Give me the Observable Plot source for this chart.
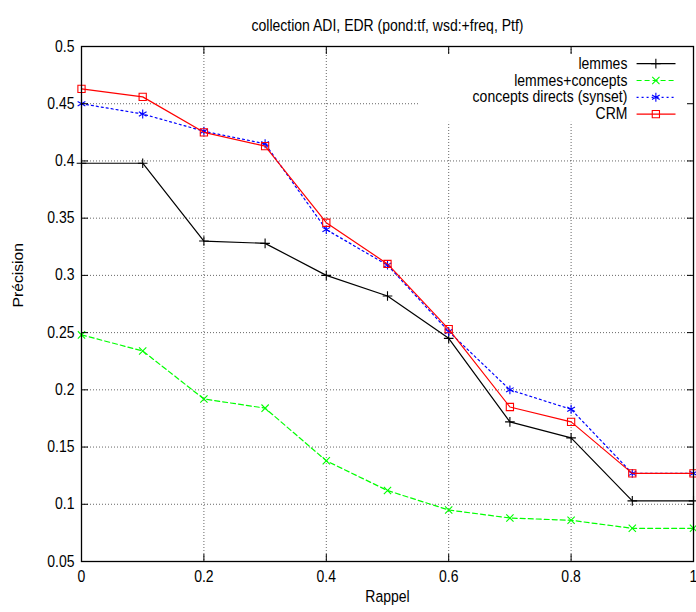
<!DOCTYPE html>
<html><head><meta charset="utf-8">
<script src="https://cdn.jsdelivr.net/npm/d3@7"></script>
<script src="https://cdn.jsdelivr.net/npm/@observablehq/plot@0.6"></script>
<style>body{margin:0;background:#fff}</style>
</head><body><div id="chart"></div>
<script>
const rappel = [0, 0.1, 0.2, 0.3, 0.4, 0.5, 0.6, 0.7, 0.8, 0.9, 1];
const lemmes = [0.398, 0.398, 0.330, 0.328, 0.300, 0.282, 0.245, 0.172, 0.158, 0.103, 0.103];
const lemmesConcepts = [0.248, 0.234, 0.192, 0.184, 0.138, 0.112, 0.095, 0.088, 0.086, 0.079, 0.079];
const synset = [0.450, 0.441, 0.426, 0.415, 0.340, 0.309, 0.251, 0.200, 0.183, 0.127, 0.127];
const crm = [0.463, 0.456, 0.425, 0.413, 0.346, 0.310, 0.253, 0.185, 0.172, 0.127, 0.127];
const seriesNames = ["lemmes", "lemmes+concepts", "concepts directs (synset)", "CRM"];
const xTicks = [0, 0.2, 0.4, 0.6, 0.8, 1];
const yTicks = [0.05, 0.1, 0.15, 0.2, 0.25, 0.3, 0.35, 0.4, 0.45, 0.5];
const titleText = "collection ADI, EDR (pond:tf, wsd:+freq, Ptf)";
const xLabel = "Rappel";
const yLabel = "Précision";

const values = [lemmes, lemmesConcepts, synset, crm];
const colors = ["#000000", "#00ff00", "#0000ff", "#ff0000"];
const dashes = [null, "5,3", "2,3", null];
const symbols = ["plus", "times", "asterisk", "square2"];
const radii = [3.2, 3.4, 4.2, 4.6];

const rows = seriesNames.map((s, i) => rappel.map((x, j) => ({serie: s, x, y: values[i][j]})));
const legend = seriesNames.map((s, i) => ({serie: s, i, y: 0.485 - i * 0.0147}));

const fmt = d3.format("~g");
const marks = [
  Plot.gridX(xTicks.slice(1, -1), {stroke: "#000", strokeOpacity: 0.6, strokeDasharray: "1,2"}),
  Plot.gridY(yTicks.slice(1, -1), {stroke: "#000", strokeOpacity: 0.6, strokeDasharray: "1,2"}),
  Plot.rect([0], {x1: 0.551, x2: 1, y1: 0.4337, y2: 0.4931, fill: "white"})
];
seriesNames.forEach((s, i) => {
  marks.push(Plot.line(rows[i], {x: "x", y: "y", stroke: colors[i], strokeWidth: 1.2, strokeDasharray: dashes[i]}));
  marks.push(Plot.dot(rows[i], {x: "x", y: "y", stroke: colors[i], symbol: symbols[i], r: radii[i], strokeWidth: 1.1, fill: "none"}));
});
legend.forEach((d) => {
  const i = d.i;
  marks.push(Plot.text([d], {x: 0.892, y: "y", text: "serie", textAnchor: "end", fill: "#000"}));
  marks.push(Plot.link([d], {x1: 0.907, x2: 0.9706, y1: "y", y2: "y", stroke: colors[i], strokeWidth: 1.2, strokeDasharray: dashes[i]}));
  marks.push(Plot.dot([d], {x: 0.9385, y: "y", stroke: colors[i], symbol: symbols[i], r: radii[i], strokeWidth: 1.1, fill: "none"}));
});
marks.push(
  Plot.frame({stroke: "#000", strokeWidth: 1.3}),
  Plot.axisX(xTicks, {anchor: "bottom", tickSize: -7, tickFormat: () => "", label: null}),
  Plot.axisX(xTicks, {anchor: "top", tickSize: -7, tickFormat: () => "", label: null}),
  Plot.axisY(yTicks, {anchor: "left", tickSize: -7, tickFormat: () => "", label: null}),
  Plot.axisY(yTicks, {anchor: "right", tickSize: -7, tickFormat: () => "", label: null}),
  Plot.axisX(xTicks, {anchor: "bottom", tickSize: 0, tickPadding: 10, tickFormat: fmt, label: null}),
  Plot.axisY(yTicks, {anchor: "left", tickSize: 0, tickPadding: 7, tickFormat: fmt, label: null}),
  Plot.text([titleText], {frameAnchor: "top", dy: -26, fill: "#000"}),
  Plot.text([xLabel], {frameAnchor: "bottom", dy: 40, fill: "#000"}),
  Plot.text([yLabel], {frameAnchor: "left", dx: -63, rotate: -90, fill: "#000"})
);

const chart = Plot.plot({
  width: 696,
  height: 612,
  marginLeft: 81,
  marginRight: 3,
  marginTop: 46,
  marginBottom: 51,
  style: {fontSize: "14px", fontFamily: "'Liberation Sans', Arial, sans-serif", background: "#fff", color: "#000"},
  x: {domain: [0, 1]},
  y: {domain: [0.05, 0.5]},
  marks
});
document.getElementById("chart").appendChild(chart);

// emulate the vertically stretched lettering of the original
const k = 1.12;
chart.querySelectorAll("text").forEach((t) => {
  if (!t.textContent.trim()) return;
  const b = t.getBBox();
  const tr = t.getAttribute("transform") || "";
  if (tr.includes("rotate")) {
    const cx = b.x + b.width / 2;
    t.setAttribute("transform", `${tr} translate(${cx},0) scale(${k},1) translate(${-cx},0)`);
  } else {
    const cy = b.y + b.height / 2;
    t.setAttribute("transform", `${tr} translate(0,${cy}) scale(1,${k}) translate(0,${-cy})`);
  }
});
</script>
</body></html>
